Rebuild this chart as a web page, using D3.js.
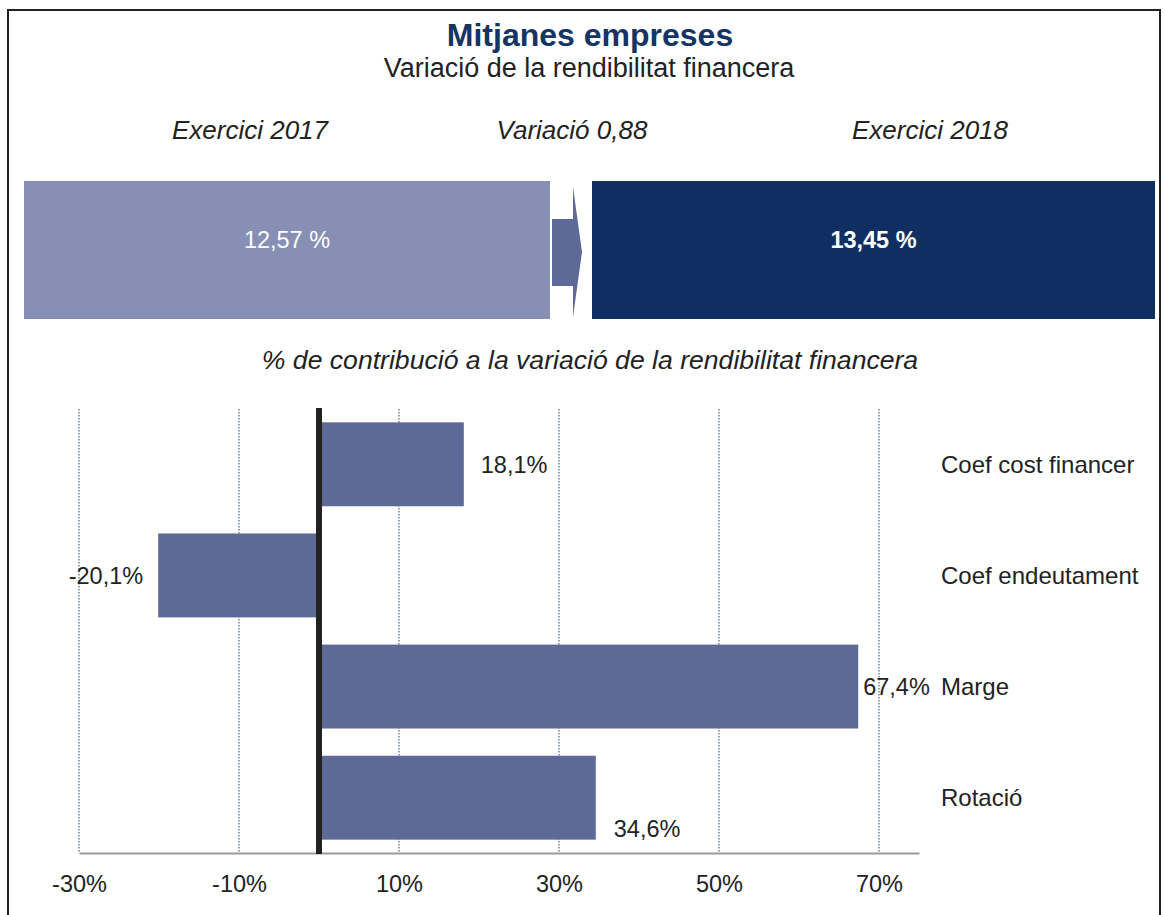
<!DOCTYPE html>
<html>
<head>
<meta charset="utf-8">
<script src="https://cdn.jsdelivr.net/npm/d3@7"></script>
<style>
  body { margin: 0; background: #fff; }
  svg { display: block; font-family: "Liberation Sans", Arial, sans-serif; }
</style>
</head>
<body>
<div id="chart"></div>
<script>
// Data
const title = "Mitjanes empreses";
const subtitle = "Variació de la rendibilitat financera";
const yearLabels = ["Exercici 2017", "Variació 0,88", "Exercici 2018"];
const yearValues = [12.57, 13.45];
const categories = ["Coef cost financer", "Coef endeutament", "Marge", "Rotació"];
const contributions = [18.1, -20.1, 67.4, 34.6];
const tickValues = [-30, -10, 10, 30, 50, 70];

const width = 1165, height = 915;
const fmt = v => v.toFixed(1).replace(".", ",") + "%";
const fmt2 = v => v.toFixed(2).replace(".", ",") + " %";

const svg = d3.select("#chart").append("svg")
    .attr("width", width)
    .attr("height", height);

// frame
svg.append("path")
    .attr("d", "M8,915 L8,10 L1160,10 L1160,915")
    .attr("fill", "none")
    .attr("stroke", "#222")
    .attr("stroke-width", 2);

// titles
svg.append("text")
    .attr("x", 590).attr("y", 46)
    .attr("text-anchor", "middle")
    .attr("font-size", 32).attr("font-weight", "bold")
    .attr("fill", "#143466")
    .text(title);

svg.append("text")
    .attr("x", 589).attr("y", 77)
    .attr("text-anchor", "middle")
    .attr("font-size", 27)
    .attr("fill", "#222")
    .text(subtitle);

// year headings
const headX = [250, 572, 930];
svg.selectAll("text.head")
    .data(yearLabels)
    .join("text")
    .attr("class", "head")
    .attr("x", (d, i) => headX[i]).attr("y", 139)
    .attr("text-anchor", "middle")
    .attr("font-size", 26).attr("font-style", "italic")
    .attr("fill", "#222")
    .text(d => d);

// boxes
const boxes = [
    { x0: 24, x1: 550, fill: "#8790b4", bold: false },
    { x0: 592, x1: 1155, fill: "#0f2f63", bold: true }
];
const boxG = svg.selectAll("g.box")
    .data(yearValues)
    .join("g")
    .attr("class", "box");
boxG.append("rect")
    .attr("x", (d, i) => boxes[i].x0)
    .attr("y", 181)
    .attr("width", (d, i) => boxes[i].x1 - boxes[i].x0)
    .attr("height", 138)
    .attr("fill", (d, i) => boxes[i].fill);
boxG.append("text")
    .attr("x", (d, i) => (boxes[i].x0 + boxes[i].x1) / 2)
    .attr("y", 248)
    .attr("text-anchor", "middle")
    .attr("font-size", 23.5)
    .attr("font-weight", (d, i) => boxes[i].bold ? "bold" : "normal")
    .attr("fill", "#fff")
    .text(d => fmt2(d));

// arrow
svg.append("path")
    .attr("d", "M552,219 L573,219 L573,187 L582,252 L573,317 L573,286 L552,286 Z")
    .attr("fill", "#5d6996");

// chart subtitle
svg.append("text")
    .attr("x", 590).attr("y", 369)
    .attr("text-anchor", "middle")
    .attr("font-size", 26.6).attr("font-style", "italic")
    .attr("fill", "#222")
    .text("% de contribució a la variació de la rendibilitat financera");

// bar chart
const x = d3.scaleLinear().domain([-30, 75]).range([79, 919]);
const y = d3.scaleBand()
    .domain(categories)
    .range([409, 853])
    .paddingInner(0.245)
    .paddingOuter(0.12);

// gridlines
svg.selectAll("line.grid")
    .data(tickValues)
    .join("line")
    .attr("class", "grid")
    .attr("x1", d => x(d)).attr("x2", d => x(d))
    .attr("y1", 409).attr("y2", 853)
    .attr("stroke", "#2a3f7a")
    .attr("stroke-width", 1)
    .attr("stroke-dasharray", "1.5,1.5");

// bars
svg.selectAll("rect.bar")
    .data(contributions)
    .join("rect")
    .attr("class", "bar")
    .attr("x", d => x(Math.min(0, d)))
    .attr("y", (d, i) => y(categories[i]))
    .attr("width", d => Math.abs(x(d) - x(0)))
    .attr("height", y.bandwidth())
    .attr("fill", "#5d6996");

// x axis
const axis = svg.append("g")
    .attr("transform", "translate(0,853)")
    .call(d3.axisBottom(x).tickValues(tickValues).tickSize(0).tickPadding(22).tickFormat(d => d + "%"));
axis.select(".domain").attr("stroke", "#999").attr("stroke-width", 2);
axis.selectAll("text")
    .attr("font-size", 23.5)
    .attr("font-family", "Liberation Sans, Arial, sans-serif")
    .attr("fill", "#222");

// zero line
svg.append("line")
    .attr("x1", x(0)).attr("x2", x(0))
    .attr("y1", 408).attr("y2", 854)
    .attr("stroke", "#222")
    .attr("stroke-width", 6);

// value labels (offsets from bar end, as placed in the original)
const labelDx = [17, -15, 5, 18];
const labelDy = [0, 0, 0, 31];
svg.selectAll("text.val")
    .data(contributions)
    .join("text")
    .attr("class", "val")
    .attr("x", (d, i) => x(d) + labelDx[i])
    .attr("y", (d, i) => y(categories[i]) + y.bandwidth() / 2 + labelDy[i])
    .attr("dy", "0.35em")
    .attr("text-anchor", d => d < 0 ? "end" : "start")
    .attr("font-size", 23.5)
    .attr("fill", "#222")
    .text(d => fmt(d));

// category labels
svg.selectAll("text.cat")
    .data(categories)
    .join("text")
    .attr("class", "cat")
    .attr("x", 941)
    .attr("y", d => y(d) + y.bandwidth() / 2)
    .attr("dy", "0.35em")
    .attr("font-size", 24)
    .attr("fill", "#222")
    .text(d => d);
</script>
</body>
</html>
